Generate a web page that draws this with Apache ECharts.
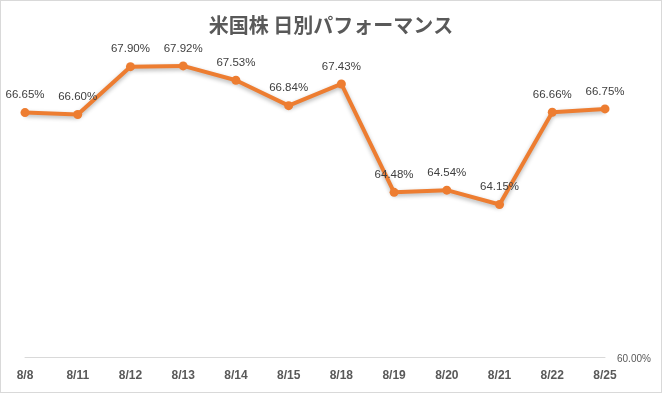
<!DOCTYPE html>
<html><head><meta charset="utf-8">
<script src="https://cdn.jsdelivr.net/npm/echarts@6/dist/echarts.min.js"></script>
<style>
html,body{margin:0;padding:0;background:#fff;}
#c{position:absolute;left:0;top:0;width:660px;height:391px;border:1px solid #d9d9d9;}
</style></head>
<body><div id="c"></div>
<script>
const categories = ['8/8','8/11','8/12','8/13','8/14','8/15','8/18','8/19','8/20','8/21','8/22','8/25'];
const values = [66.65, 66.60, 67.90, 67.92, 67.53, 66.84, 67.43, 64.48, 64.54, 64.15, 66.66, 66.75];
const titleText = '米国株 日別パフォーマンス';
const yMin = 60, yMax = 68;

const chart = echarts.init(document.getElementById('c'));
chart.setOption({
  animation: false,
  title: {
    text: titleText, left: 'center', top: 9,
    textStyle: {fontFamily: '"Noto Sans CJK JP", sans-serif', fontSize: 20, fontWeight: 'bold', color: '#595959'}
  },
  grid: {left: 24, right: 56, top: 62, bottom: 35},
  xAxis: {
    type: 'category', data: categories, boundaryGap: false,
    axisLine: {show: true, lineStyle: {color: '#d9d9d9', width: 1}},
    axisTick: {show: false},
    axisLabel: {color: '#595959', fontSize: 12, fontWeight: 'bold', margin: 13, fontFamily: '"Liberation Sans", sans-serif', interval: 0}
  },
  yAxis: {
    type: 'value', position: 'right', min: yMin, max: yMax, interval: 8,
    splitLine: {show: false}, axisLine: {show: false}, axisTick: {show: false},
    axisLabel: {showMaxLabel: false, color: '#595959', fontSize: 10, margin: 12, fontFamily: '"Liberation Sans", sans-serif',
      verticalAlign: 'top', padding: [-3, 0, 0, 0],
      formatter: v => v.toFixed(2) + '%'}
  },
  series: [{
    type: 'line', data: values,
    lineStyle: {color: '#ED7D31', width: 4, shadowColor: 'rgba(0,0,0,0.3)', shadowBlur: 4, shadowOffsetY: 2},
    itemStyle: {color: '#ED7D31'},
    symbol: 'circle', symbolSize: 9,
    label: {show: true, position: 'top', distance: 7, color: '#404040', fontSize: 11.5,
      fontFamily: '"Liberation Sans", sans-serif', formatter: p => p.value.toFixed(2) + '%'}
  }]
});
</script></body></html>
